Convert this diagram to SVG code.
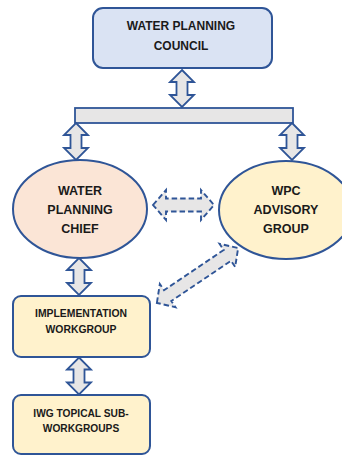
<svg xmlns="http://www.w3.org/2000/svg" xmlns:xlink="http://www.w3.org/1999/xlink" width="342" height="456" viewBox="0 0 342 456">
<style>
.node{stroke:#2f5597;stroke-width:2}
.arrow{fill:#e7e6e6;stroke:#2f5597;stroke-width:1.8;stroke-linejoin:miter}
.dash{fill:#e7e6e6;stroke:#2f5597;stroke-width:1.9;stroke-dasharray:5.5 3}
.t{font-family:"Liberation Sans",Arial,sans-serif;font-weight:bold;fill:#1a1a1a;text-anchor:middle}
</style>
<defs>
<path id="varrow" d="M0,-18.5 L12,-6.5 L5.5,-6.5 L5.5,6.5 L12,6.5 L0,18.5 L-12,6.5 L-5.5,6.5 L-5.5,-6.5 L-12,-6.5 Z"/>
</defs>
<rect width="342" height="456" fill="#ffffff"/>
<g id="connectors">
<rect x="75" y="108" width="218" height="15" class="arrow"/>
<use xlink:href="#varrow" href="#varrow" class="arrow" transform="translate(182,88.5)"/>
<use xlink:href="#varrow" href="#varrow" class="arrow" transform="translate(76,141.5)"/>
<use xlink:href="#varrow" href="#varrow" class="arrow" transform="translate(292,141.5)"/>
<use xlink:href="#varrow" href="#varrow" class="arrow" transform="translate(79,276.5)"/>
<use xlink:href="#varrow" href="#varrow" class="arrow" transform="translate(79,376)"/>
<path class="dash" d="M-30.5,0 L-17.5,-15 L-17.5,-6.5 L17.5,-6.5 L17.5,-15 L30.5,0 L17.5,15 L17.5,6.5 L-17.5,6.5 L-17.5,15 Z" transform="translate(183.5,205)"/>
<path class="dash" d="M-49,0 L-36,-14 L-36,-6.5 L36,-6.5 L36,-14 L49,0 L36,14 L36,6.5 L-36,6.5 L-36,14 Z" transform="translate(197.5,275.5) rotate(-34)"/>
</g>
<g id="council">
<rect x="93" y="8" width="179" height="60" rx="10" fill="#dae3f3" class="node"/>
<text class="t" font-size="12" x="181" y="30">WATER PLANNING</text>
<text class="t" font-size="12" x="181" y="50">COUNCIL</text>
</g>
<g id="chief">
<ellipse cx="80" cy="209" rx="67" ry="49" fill="#fbe5d6" class="node"/>
<text class="t" font-size="12.5" x="80" y="195">WATER</text>
<text class="t" font-size="12.5" x="80" y="214">PLANNING</text>
<text class="t" font-size="12.5" x="80" y="233">CHIEF</text>
</g>
<g id="advisory">
<ellipse cx="286" cy="210" rx="67" ry="49" fill="#fff2cc" class="node"/>
<text class="t" font-size="12.5" x="286" y="195">WPC</text>
<text class="t" font-size="12.5" x="286" y="214">ADVISORY</text>
<text class="t" font-size="12.5" x="286" y="233">GROUP</text>
</g>
<g id="implementation">
<rect x="13" y="296" width="137" height="61" rx="8" fill="#fff2cc" class="node"/>
<text class="t" font-size="10.4" x="81" y="317">IMPLEMENTATION</text>
<text class="t" font-size="10.4" x="81" y="333">WORKGROUP</text>
</g>
<g id="iwg">
<rect x="13" y="395" width="137" height="59" rx="8" fill="#fff2cc" class="node"/>
<text class="t" font-size="10.2" x="81" y="416.5">IWG TOPICAL SUB-</text>
<text class="t" font-size="10.2" x="81" y="432">WORKGROUPS</text>
</g>
</svg>
